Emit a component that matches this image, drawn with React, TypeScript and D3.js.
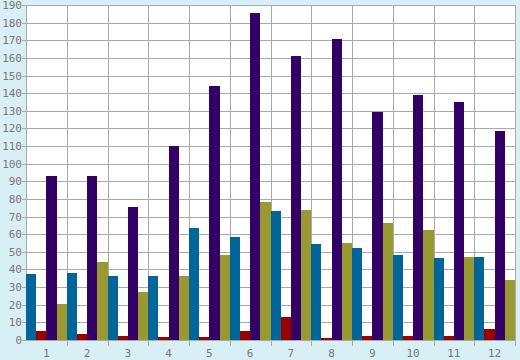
import React from "react";
import * as d3 from "d3";

const categories = ["1", "2", "3", "4", "5", "6", "7", "8", "9", "10", "11", "12"];
const seriesNames = ["A", "B", "C", "D"];
const seriesA = [37.4, 38, 36.3, 36.3, 63.5, 58.4, 73.2, 54.4, 52.2, 48.2, 46.5, 47.1];
const seriesB = [5.3, 3.4, 2.3, 1.7, 1.7, 5.1, 13, 1.1, 2.3, 2.3, 2.3, 6.2];
const seriesC = [93, 93, 75.4, 110, 144, 185.5, 161, 170.7, 129.3, 139, 135, 118.5];
const seriesD = [20.4, 44.2, 27.2, 36.3, 48.2, 78.3, 73.7, 55, 66.4, 62.4, 47.1, 34];
const colors = ["#006699", "#990000", "#330066", "#999933"];
const yTicks = d3.range(0, 191, 10);

const W = 520, H = 360;
const M = { left: 26, right: 5, top: 5, bottom: 20 };

export default function App() {
  const series = [seriesA, seriesB, seriesC, seriesD];
  const x0 = d3.scaleBand<string>().domain(categories).range([M.left, W - M.right]).padding(0);
  const x1 = d3.scaleBand<string>().domain(seriesNames).range([0, x0.bandwidth()]).padding(0);
  const y = d3.scaleLinear().domain([0, 190]).range([H - M.bottom, M.top]);
  const font = "'DejaVu Sans Mono', monospace";
  const boundaries = categories.map((c) => x0(c)!).concat([W - M.right]);
  return (
    <svg width={W} height={H} style={{ position: "absolute", left: 0, top: 0 }}>
      <rect x={0} y={0} width={W} height={H} fill="#d9eff6" />
      <rect x={M.left} y={M.top} width={W - M.left - M.right} height={H - M.top - M.bottom} fill="#ffffff" />
      <g shapeRendering="crispEdges" stroke="#aaaaaa" strokeWidth={1}>
        {yTicks.map((t) => (
          <line key={"h" + t} x1={M.left - 4} x2={W - M.right} y1={Math.round(y(t)) + 0.5} y2={Math.round(y(t)) + 0.5} />
        ))}
        {boundaries.map((b, i) => (
          <line key={"v" + i} x1={Math.round(b) + 0.5} x2={Math.round(b) + 0.5} y1={M.top} y2={H - M.bottom + (i === 0 ? 0 : 6)} />
        ))}
      </g>
      <g shapeRendering="crispEdges">
        {categories.map((c, i) =>
          series.map((s, j) => (
            <rect
              key={c + "-" + j}
              x={x0(c)! + x1(seriesNames[j])!}
              y={y(s[i])}
              width={x1.bandwidth()}
              height={y(0) - y(s[i])}
              fill={colors[j]}
            />
          ))
        )}
      </g>
      <g fontFamily={font} fontSize={11} fill="#777777">
        {yTicks.map((t) => (
          <text key={"yl" + t} x={M.left - 4} y={y(t) + 4} textAnchor="end">
            {t}
          </text>
        ))}
        {categories.map((c) => (
          <text key={"xl" + c} x={x0(c)! + x0.bandwidth() / 2} y={357} textAnchor="middle">
            {c}
          </text>
        ))}
      </g>
    </svg>
  );
}
